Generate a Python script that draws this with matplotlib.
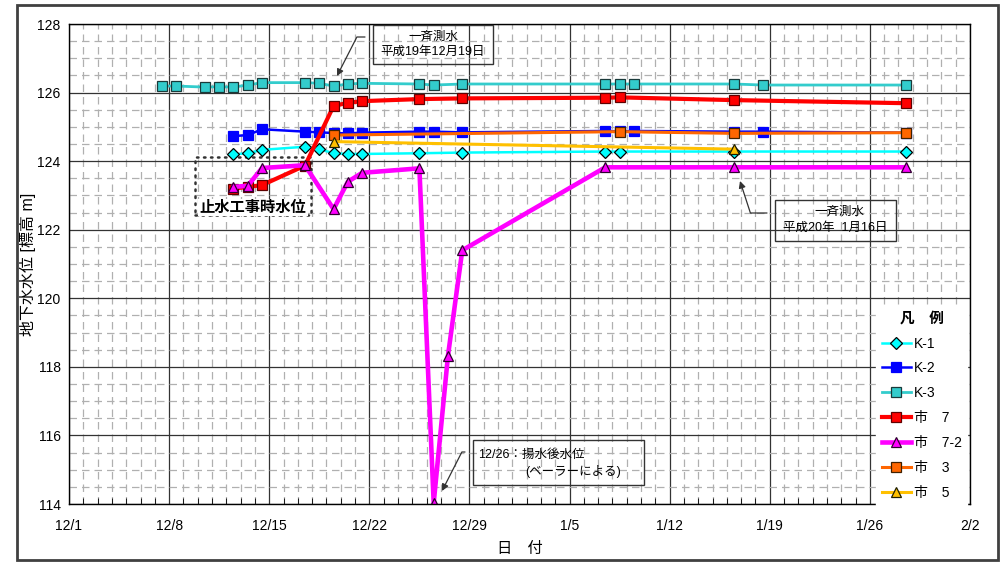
import matplotlib
matplotlib.use('Agg')
import matplotlib.pyplot as plt
import matplotlib.dates as mdates
from matplotlib.patches import Rectangle
import pandas as pd

plt.rcParams['font.family'] = ['Liberation Sans', 'Noto Sans CJK JP']

# measurement dates (month/day, winter 2007-2008) and water levels [m]
k1_dates = ['12/12', '12/13', '12/14', '12/17', '12/18', '12/19', '12/20', '12/21',
            '12/25', '12/28', '1/7', '1/8', '1/16', '1/28']
k1_vals = [124.20, 124.23, 124.33, 124.42, 124.35, 124.23, 124.21, 124.21,
           124.23, 124.25, 124.28, 124.28, 124.28, 124.28]

k2_dates = ['12/12', '12/13', '12/14', '12/17', '12/18', '12/19', '12/20', '12/21',
            '12/25', '12/26', '12/28', '1/7', '1/8', '1/9', '1/16', '1/18', '1/28']
k2_vals = [124.73, 124.76, 124.93, 124.86, 124.84, 124.82, 124.81, 124.83,
           124.86, 124.86, 124.84, 124.88, 124.87, 124.88, 124.86, 124.86, 124.83]

k3_dates = ['12/7', '12/8', '12/10', '12/11', '12/12', '12/13', '12/14', '12/17',
            '12/18', '12/19', '12/20', '12/21', '12/25', '12/26', '12/28',
            '1/7', '1/8', '1/9', '1/16', '1/18', '1/28']
k3_vals = [126.19, 126.19, 126.16, 126.17, 126.16, 126.22, 126.29, 126.29,
           126.27, 126.19, 126.25, 126.27, 126.25, 126.22, 126.25,
           126.25, 126.25, 126.25, 126.25, 126.22, 126.22]

c7_dates = ['12/12', '12/13', '12/14', '12/17', '12/19', '12/20', '12/21',
            '12/25', '12/28', '1/7', '1/8', '1/16', '1/28']
c7_vals = [123.20, 123.25, 123.30, 123.87, 125.61, 125.70, 125.75,
           125.81, 125.83, 125.85, 125.86, 125.78, 125.69]

c72_dates = ['12/12', '12/13', '12/14', '12/17', '12/19', '12/20', '12/21',
             '12/25', '12/26', '12/27', '12/28', '1/7', '1/16', '1/28']
c72_vals = [123.25, 123.28, 123.80, 123.88, 122.60, 123.40, 123.66,
            123.79, 114.03, 118.33, 121.40, 123.82, 123.82, 123.82]

c3_dates = ['12/19', '1/8', '1/16', '1/28']
c3_vals = [124.76, 124.86, 124.81, 124.83]

c5_dates = ['12/19', '1/16']
c5_vals = [124.57, 124.35]

tick_dates = ['12/1', '12/8', '12/15', '12/22', '12/29', '1/5', '1/12', '1/19', '1/26', '2/2']


def to_dt(lst, hour=12):
    out = []
    for s in lst:
        m, d = s.split('/')
        y = 2007 if int(m) == 12 else 2008
        out.append(pd.Timestamp(y, int(m), int(d), hour))
    return out


W, H = 1007, 564


def px(x, y):
    # pixel position in the picture -> figure fraction
    return (x / W, 1 - y / H)


fig = plt.figure(figsize=(W / 100, H / 100), dpi=100)
ax = fig.add_axes([69 / W, 1 - 504 / H, 901 / W, 480 / H])

series = [
    ('K-1', k1_dates, k1_vals, '#00FFFF', 'D', '#00FFFF', 'black', 1.8, 5.8),
    ('K-2', k2_dates, k2_vals, '#0000FF', 's', '#0000FF', '#0000FF', 1.8, 7.3),
    ('K-3', k3_dates, k3_vals, '#33CCCC', 's', '#33CCCC', '#1a3a3a', 2.0, 7.3),
    ('市\u30007', c7_dates, c7_vals, '#FF0000', 's', '#FF0000', '#600000', 3.0, 7.3),
    ('市\u30007-2', c72_dates, c72_vals, '#FF00FF', '^', '#FF00FF', '#300030', 3.3, 7.8),
    ('市\u30003', c3_dates, c3_vals, '#FF6600', 's', '#FF6600', '#402000', 2.2, 7.3),
    ('市\u30005', c5_dates, c5_vals, '#FFC000', '^', '#FFC000', '#202000', 2.2, 7.8),
]
for name, d, v, col, mk, fc, ec, lw, ms in series:
    ax.plot(to_dt(d), v, color=col, lw=lw, marker=mk, markersize=ms,
            markerfacecolor=fc, markeredgecolor=ec, markeredgewidth=0.9, label=name)

x0 = pd.Timestamp(2007, 12, 1)
x1 = pd.Timestamp(2008, 2, 2)
ax.set_xlim(x0, x1)
ax.set_ylim(114, 128)

ax.set_xticks(to_dt(tick_dates, hour=0))
ax.set_xticklabels(tick_dates)
ax.set_xticks(pd.date_range(x0, x1, freq='D'), minor=True)
ax.set_yticks(range(114, 129, 2))
ax.set_yticks([114 + 0.5 * i for i in range(29)], minor=True)

ax.grid(which='minor', color='#B0B0B0', lw=0.9, linestyle=(0, (6, 4)))
ax.grid(which='major', color='#333333', lw=0.9, linestyle='-')
ax.set_axisbelow(True)
ax.tick_params(which='major', length=0, labelsize=10, pad=11)
ax.tick_params(axis='y', which='major', pad=6)
ax.tick_params(which='minor', length=4, direction='in', left=False)
for s in ax.spines.values():
    s.set_color('black')
    s.set_linewidth(1.0)

ax.set_xlabel('日\u3000付', fontsize=11, labelpad=6)
ax.set_ylabel('地下水水位 [標高 m]', fontsize=11.5)
ax.yaxis.set_label_coords(-0.037, 0.5)

# legend
leg = ax.legend(title='凡\u3000例', loc='upper right', bbox_to_anchor=(1.0, 0.418),
                fontsize=10, frameon=True, fancybox=False, edgecolor='white',
                facecolor='white', framealpha=1, labelspacing=0.78,
                handlelength=2.1, handletextpad=0.2, borderaxespad=0.2)
leg.get_title().set_fontweight('bold')
leg.get_title().set_fontsize(10.5)
leg.set_zorder(5)

arr = dict(arrowstyle='-|>', color='#333333', lw=0.9, mutation_scale=10,
           shrinkA=0, shrinkB=0)


def note_box(x_a, y_a, x_b, y_b):
    fig.patches.append(Rectangle(px(x_a, y_b), (x_b - x_a) / W, (y_b - y_a) / H,
                                 transform=fig.transFigure, fill=False,
                                 ec='#333333', lw=1.0, zorder=6))


def note_arrow(start, end, ang):
    fig.add_artist(matplotlib.patches.FancyArrowPatch(
        px(*start), px(*end), transform=fig.transFigure,
        connectionstyle='angle,angleA=0,angleB=%d,rad=0' % ang, **arr))


# 一斉測水 12/19
note_box(373, 25, 493, 64)
fig.text(*px(433, 37), '一斉測水', ha='center', va='center', fontsize=9)
fig.text(*px(433, 52), '平成19年12月19日', ha='center', va='center', fontsize=9)
note_arrow((365, 37), (337, 76), 63)

# 一斉測水 1/16
note_box(775, 200, 896, 241)
fig.text(*px(839, 212), '一斉測水', ha='center', va='center', fontsize=9)
fig.text(*px(835, 228), '平成20年  1月16日', ha='center', va='center', fontsize=9)
note_arrow((767, 213), (740, 181), -72)

# 揚水後水位
note_box(473, 440, 644, 485)
fig.text(*px(478, 455), '12/26：揚水後水位', ha='left', va='center', fontsize=9)
fig.text(*px(525, 471), '(ベーラーによる)', ha='left', va='center', fontsize=9)
note_arrow((465, 452), (442, 491), 63)

# 止水工事時水位 dotted box
bx0 = mdates.date2num(pd.Timestamp(2007, 12, 9, 20))
bx1 = mdates.date2num(pd.Timestamp(2007, 12, 17, 22))
ax.add_patch(Rectangle((bx0, 122.43), bx1 - bx0, 124.12 - 122.43, fill=False,
                       ec='#333333', lw=1.8, linestyle=(0, (0.6, 2.2)),
                       capstyle='round', zorder=1.5))
ax.text(pd.Timestamp(2007, 12, 13, 21), 122.65, '止水工事時水位', ha='center',
        va='center', fontsize=11, fontweight='bold', zorder=6,
        bbox=dict(boxstyle='square,pad=0.1', fc='white', ec='none'))

# outer frame
fig.patches.append(Rectangle((17 / W, 4 / H), 981 / W, 555 / H,
                             transform=fig.transFigure, fill=False,
                             ec='#404040', lw=2))

fig.savefig('out.png', dpi=100)
